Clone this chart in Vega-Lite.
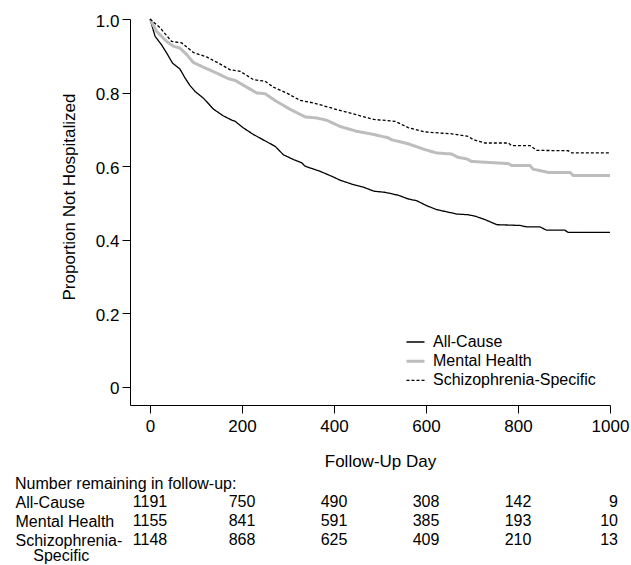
{
  "$schema": "https://vega.github.io/schema/vega-lite/v6.json",
  "padding": {"left": 15, "top": 12, "right": 2, "bottom": 0},
  "spacing": 7,
  "config": {
    "font": "Liberation Sans",
    "view": {"stroke": null},
    "axis": {"labelColor": "black", "titleColor": "black", "domainColor": "black", "tickColor": "black", "grid": false, "titleFontWeight": "normal", "domainWidth": 1, "tickWidth": 1}
  },
  "resolve": {"scale": {"x": "independent", "y": "independent"}},
  "datasets": {
    "curves": [
      {"group": "All-Cause", "day": 0, "surv": 1.0},
      {"group": "All-Cause", "day": 11, "surv": 0.953},
      {"group": "All-Cause", "day": 25, "surv": 0.930},
      {"group": "All-Cause", "day": 36, "surv": 0.908},
      {"group": "All-Cause", "day": 49, "surv": 0.880},
      {"group": "All-Cause", "day": 65, "surv": 0.864},
      {"group": "All-Cause", "day": 76, "surv": 0.840},
      {"group": "All-Cause", "day": 87, "surv": 0.819},
      {"group": "All-Cause", "day": 98, "surv": 0.803},
      {"group": "All-Cause", "day": 116, "surv": 0.785},
      {"group": "All-Cause", "day": 138, "surv": 0.755},
      {"group": "All-Cause", "day": 159, "surv": 0.737},
      {"group": "All-Cause", "day": 178, "surv": 0.725},
      {"group": "All-Cause", "day": 185, "surv": 0.722},
      {"group": "All-Cause", "day": 203, "surv": 0.704},
      {"group": "All-Cause", "day": 225, "surv": 0.686},
      {"group": "All-Cause", "day": 250, "surv": 0.669},
      {"group": "All-Cause", "day": 272, "surv": 0.654},
      {"group": "All-Cause", "day": 290, "surv": 0.631},
      {"group": "All-Cause", "day": 312, "surv": 0.618},
      {"group": "All-Cause", "day": 330, "surv": 0.609},
      {"group": "All-Cause", "day": 337, "surv": 0.600},
      {"group": "All-Cause", "day": 370, "surv": 0.586},
      {"group": "All-Cause", "day": 398, "surv": 0.571},
      {"group": "All-Cause", "day": 413, "surv": 0.562},
      {"group": "All-Cause", "day": 442, "surv": 0.550},
      {"group": "All-Cause", "day": 464, "surv": 0.543},
      {"group": "All-Cause", "day": 487, "surv": 0.532},
      {"group": "All-Cause", "day": 511, "surv": 0.529},
      {"group": "All-Cause", "day": 540, "surv": 0.521},
      {"group": "All-Cause", "day": 561, "surv": 0.511},
      {"group": "All-Cause", "day": 580, "surv": 0.506},
      {"group": "All-Cause", "day": 601, "surv": 0.493},
      {"group": "All-Cause", "day": 623, "surv": 0.482},
      {"group": "All-Cause", "day": 645, "surv": 0.476},
      {"group": "All-Cause", "day": 667, "surv": 0.470},
      {"group": "All-Cause", "day": 692, "surv": 0.468},
      {"group": "All-Cause", "day": 707, "surv": 0.464},
      {"group": "All-Cause", "day": 728, "surv": 0.455},
      {"group": "All-Cause", "day": 754, "surv": 0.441},
      {"group": "All-Cause", "day": 804, "surv": 0.439},
      {"group": "All-Cause", "day": 819, "surv": 0.435},
      {"group": "All-Cause", "day": 848, "surv": 0.435},
      {"group": "All-Cause", "day": 862, "surv": 0.426},
      {"group": "All-Cause", "day": 902, "surv": 0.426},
      {"group": "All-Cause", "day": 909, "surv": 0.420},
      {"group": "All-Cause", "day": 1000, "surv": 0.420},
      {"group": "Mental Health", "day": 0, "surv": 1.0},
      {"group": "Mental Health", "day": 14, "surv": 0.967},
      {"group": "Mental Health", "day": 36, "surv": 0.939},
      {"group": "Mental Health", "day": 51, "surv": 0.926},
      {"group": "Mental Health", "day": 65, "surv": 0.921},
      {"group": "Mental Health", "day": 80, "surv": 0.903},
      {"group": "Mental Health", "day": 94, "surv": 0.882},
      {"group": "Mental Health", "day": 116, "surv": 0.869},
      {"group": "Mental Health", "day": 145, "surv": 0.853},
      {"group": "Mental Health", "day": 170, "surv": 0.838},
      {"group": "Mental Health", "day": 185, "surv": 0.833},
      {"group": "Mental Health", "day": 210, "surv": 0.815},
      {"group": "Mental Health", "day": 232, "surv": 0.799},
      {"group": "Mental Health", "day": 250, "surv": 0.797},
      {"group": "Mental Health", "day": 275, "surv": 0.776},
      {"group": "Mental Health", "day": 304, "surv": 0.755},
      {"group": "Mental Health", "day": 337, "surv": 0.734},
      {"group": "Mental Health", "day": 362, "surv": 0.731},
      {"group": "Mental Health", "day": 384, "surv": 0.725},
      {"group": "Mental Health", "day": 413, "surv": 0.708},
      {"group": "Mental Health", "day": 449, "surv": 0.695},
      {"group": "Mental Health", "day": 487, "surv": 0.686},
      {"group": "Mental Health", "day": 518, "surv": 0.677},
      {"group": "Mental Health", "day": 525, "surv": 0.672},
      {"group": "Mental Health", "day": 561, "surv": 0.661},
      {"group": "Mental Health", "day": 598, "surv": 0.645},
      {"group": "Mental Health", "day": 623, "surv": 0.636},
      {"group": "Mental Health", "day": 656, "surv": 0.633},
      {"group": "Mental Health", "day": 670, "surv": 0.624},
      {"group": "Mental Health", "day": 688, "surv": 0.620},
      {"group": "Mental Health", "day": 699, "surv": 0.613},
      {"group": "Mental Health", "day": 779, "surv": 0.607},
      {"group": "Mental Health", "day": 786, "surv": 0.602},
      {"group": "Mental Health", "day": 826, "surv": 0.602},
      {"group": "Mental Health", "day": 833, "surv": 0.592},
      {"group": "Mental Health", "day": 866, "surv": 0.583},
      {"group": "Mental Health", "day": 913, "surv": 0.583},
      {"group": "Mental Health", "day": 920, "surv": 0.575},
      {"group": "Mental Health", "day": 1000, "surv": 0.575},
      {"group": "Schizophrenia-Specific", "day": 0, "surv": 1.0},
      {"group": "Schizophrenia-Specific", "day": 22, "surv": 0.976},
      {"group": "Schizophrenia-Specific", "day": 47, "surv": 0.939},
      {"group": "Schizophrenia-Specific", "day": 69, "surv": 0.935},
      {"group": "Schizophrenia-Specific", "day": 94, "surv": 0.909},
      {"group": "Schizophrenia-Specific", "day": 123, "surv": 0.897},
      {"group": "Schizophrenia-Specific", "day": 149, "surv": 0.880},
      {"group": "Schizophrenia-Specific", "day": 174, "surv": 0.862},
      {"group": "Schizophrenia-Specific", "day": 196, "surv": 0.858},
      {"group": "Schizophrenia-Specific", "day": 225, "surv": 0.835},
      {"group": "Schizophrenia-Specific", "day": 250, "surv": 0.831},
      {"group": "Schizophrenia-Specific", "day": 268, "surv": 0.815},
      {"group": "Schizophrenia-Specific", "day": 297, "surv": 0.799},
      {"group": "Schizophrenia-Specific", "day": 326, "surv": 0.779},
      {"group": "Schizophrenia-Specific", "day": 355, "surv": 0.772},
      {"group": "Schizophrenia-Specific", "day": 406, "surv": 0.754},
      {"group": "Schizophrenia-Specific", "day": 457, "surv": 0.737},
      {"group": "Schizophrenia-Specific", "day": 487, "surv": 0.727},
      {"group": "Schizophrenia-Specific", "day": 533, "surv": 0.722},
      {"group": "Schizophrenia-Specific", "day": 561, "surv": 0.705},
      {"group": "Schizophrenia-Specific", "day": 598, "surv": 0.693},
      {"group": "Schizophrenia-Specific", "day": 656, "surv": 0.688},
      {"group": "Schizophrenia-Specific", "day": 692, "surv": 0.681},
      {"group": "Schizophrenia-Specific", "day": 703, "surv": 0.672},
      {"group": "Schizophrenia-Specific", "day": 728, "surv": 0.663},
      {"group": "Schizophrenia-Specific", "day": 779, "surv": 0.663},
      {"group": "Schizophrenia-Specific", "day": 786, "surv": 0.656},
      {"group": "Schizophrenia-Specific", "day": 826, "surv": 0.656},
      {"group": "Schizophrenia-Specific", "day": 841, "surv": 0.643},
      {"group": "Schizophrenia-Specific", "day": 909, "surv": 0.642},
      {"group": "Schizophrenia-Specific", "day": 917, "surv": 0.636},
      {"group": "Schizophrenia-Specific", "day": 1000, "surv": 0.636}
    ],
    "table": [
      {"group": "All-Cause", "day": 0, "n": 1191},
      {"group": "All-Cause", "day": 200, "n": 750},
      {"group": "All-Cause", "day": 400, "n": 490},
      {"group": "All-Cause", "day": 600, "n": 308},
      {"group": "All-Cause", "day": 800, "n": 142},
      {"group": "All-Cause", "day": 1000, "n": 9},
      {"group": "Mental Health", "day": 0, "n": 1155},
      {"group": "Mental Health", "day": 200, "n": 841},
      {"group": "Mental Health", "day": 400, "n": 591},
      {"group": "Mental Health", "day": 600, "n": 385},
      {"group": "Mental Health", "day": 800, "n": 193},
      {"group": "Mental Health", "day": 1000, "n": 10},
      {"group": "Schizophrenia-Specific", "day": 0, "n": 1148},
      {"group": "Schizophrenia-Specific", "day": 200, "n": 868},
      {"group": "Schizophrenia-Specific", "day": 400, "n": 625},
      {"group": "Schizophrenia-Specific", "day": 600, "n": 409},
      {"group": "Schizophrenia-Specific", "day": 800, "n": 210},
      {"group": "Schizophrenia-Specific", "day": 1000, "n": 13}
    ]
  },
  "vconcat": [
    {
      "width": 480,
      "height": 386,
      "data": {"name": "curves"},
      "mark": {"type": "line", "interpolate": "linear"},
      "encoding": {
        "x": {
          "field": "day", "type": "quantitative",
          "scale": {"domain": [-43.5, 1000], "nice": false, "zero": false},
          "axis": {"values": [0, 200, 400, 600, 800, 1000], "format": "d", "tickSize": 8, "labelPadding": 5, "labelFontSize": 17, "labelFlush": false, "labelOverlap": false, "labelBound": false, "title": "Follow-Up Day", "titleFontSize": 17, "titleX": 250, "titleY": 61, "titleAlign": "center", "titleBaseline": "alphabetic"}
        },
        "y": {
          "field": "surv", "type": "quantitative",
          "scale": {"domain": [-0.049, 1], "nice": false, "zero": false},
          "axis": {"values": [0, 0.2, 0.4, 0.6, 0.8, 1], "labelExpr": "datum.value == 0 ? '0' : format(datum.value, '.1f')", "tickSize": 8, "labelPadding": 3, "labelFontSize": 17, "labelBaseline": "middle", "labelOffset": 2, "labelFlush": false, "labelOverlap": false, "title": "Proportion Not Hospitalized", "titleFontSize": 17, "titleX": -55.5, "titleY": 177.5, "titleAlign": "center", "titleBaseline": "alphabetic", "titleAngle": 270}
        },
        "color": {
          "field": "group", "type": "nominal",
          "scale": {"domain": ["All-Cause", "Mental Health", "Schizophrenia-Specific"], "range": ["#000000", "#bdbdbd", "#000000"]},
          "legend": {"orient": "none", "legendX": 275, "legendY": 313, "title": null, "symbolType": "stroke", "symbolSize": 324, "labelFontSize": 16, "labelColor": "black", "labelOffset": 7, "labelLimit": 400, "rowPadding": 0.7, "padding": 0}
        },
        "strokeDash": {
          "field": "group", "type": "nominal",
          "scale": {"domain": ["All-Cause", "Mental Health", "Schizophrenia-Specific"], "range": [[1, 0], [1, 0], [3, 2]]},
          "legend": {"orient": "none", "legendX": 275, "legendY": 313, "title": null, "symbolType": "stroke", "symbolSize": 324, "labelFontSize": 16, "labelColor": "black", "labelOffset": 7, "labelLimit": 400, "rowPadding": 0.7, "padding": 0}
        },
        "strokeWidth": {
          "field": "group", "type": "ordinal",
          "scale": {"type": "ordinal", "domain": ["All-Cause", "Mental Health", "Schizophrenia-Specific"], "range": [1.3, 3, 1.3]},
          "legend": {"orient": "none", "legendX": 275, "legendY": 313, "title": null, "symbolType": "stroke", "symbolSize": 324, "labelFontSize": 16, "labelColor": "black", "labelOffset": 7, "labelLimit": 400, "rowPadding": 0.7, "padding": 0}
        }
      }
    },
    {
      "width": 480,
      "height": 56.5,
      "data": {"name": "table"},
      "title": {"text": "Number remaining in follow-up:", "anchor": "start", "frame": "bounds", "fontSize": 16, "fontWeight": "normal", "color": "black", "baseline": "alphabetic", "offset": -12},
      "encoding": {
        "y": {
          "field": "group", "type": "nominal",
          "sort": ["All-Cause", "Mental Health", "Schizophrenia-Specific"],
          "scale": {"type": "point", "padding": 0.5, "domain": ["All-Cause", "Mental Health", "Schizophrenia-Specific"]},
          "axis": {"title": null, "domain": false, "ticks": false, "tickSize": 0, "labelAlign": "left", "labelPadding": 115, "labelFontSize": 16, "labelColor": "black", "labelBaseline": "middle", "labelLineHeight": 15.5, "labelLimit": 0, "labelExpr": "datum.value == 'Schizophrenia-Specific' ? ['Schizophrenia-', '\u200b\u00a0\u00a0\u00a0\u00a0Specific'] : datum.value"}
        }
      },
      "layer": [
        {
          "transform": [{"filter": "datum.day < 1000"}],
          "mark": {"type": "text", "fontSize": 16, "color": "black", "align": "center", "baseline": "middle"},
          "encoding": {
            "x": {"field": "day", "type": "quantitative", "scale": {"domain": [-43.5, 1000], "nice": false, "zero": false}, "axis": null},
            "text": {"field": "n", "type": "quantitative", "format": "d"}
          }
        },
        {
          "transform": [{"filter": "datum.day == 1000"}],
          "mark": {"type": "text", "fontSize": 16, "color": "black", "align": "right", "baseline": "middle", "dx": 8},
          "encoding": {
            "x": {"field": "day", "type": "quantitative", "scale": {"domain": [-43.5, 1000], "nice": false, "zero": false}, "axis": null},
            "text": {"field": "n", "type": "quantitative", "format": "d"}
          }
        }
      ]
    }
  ]
}
